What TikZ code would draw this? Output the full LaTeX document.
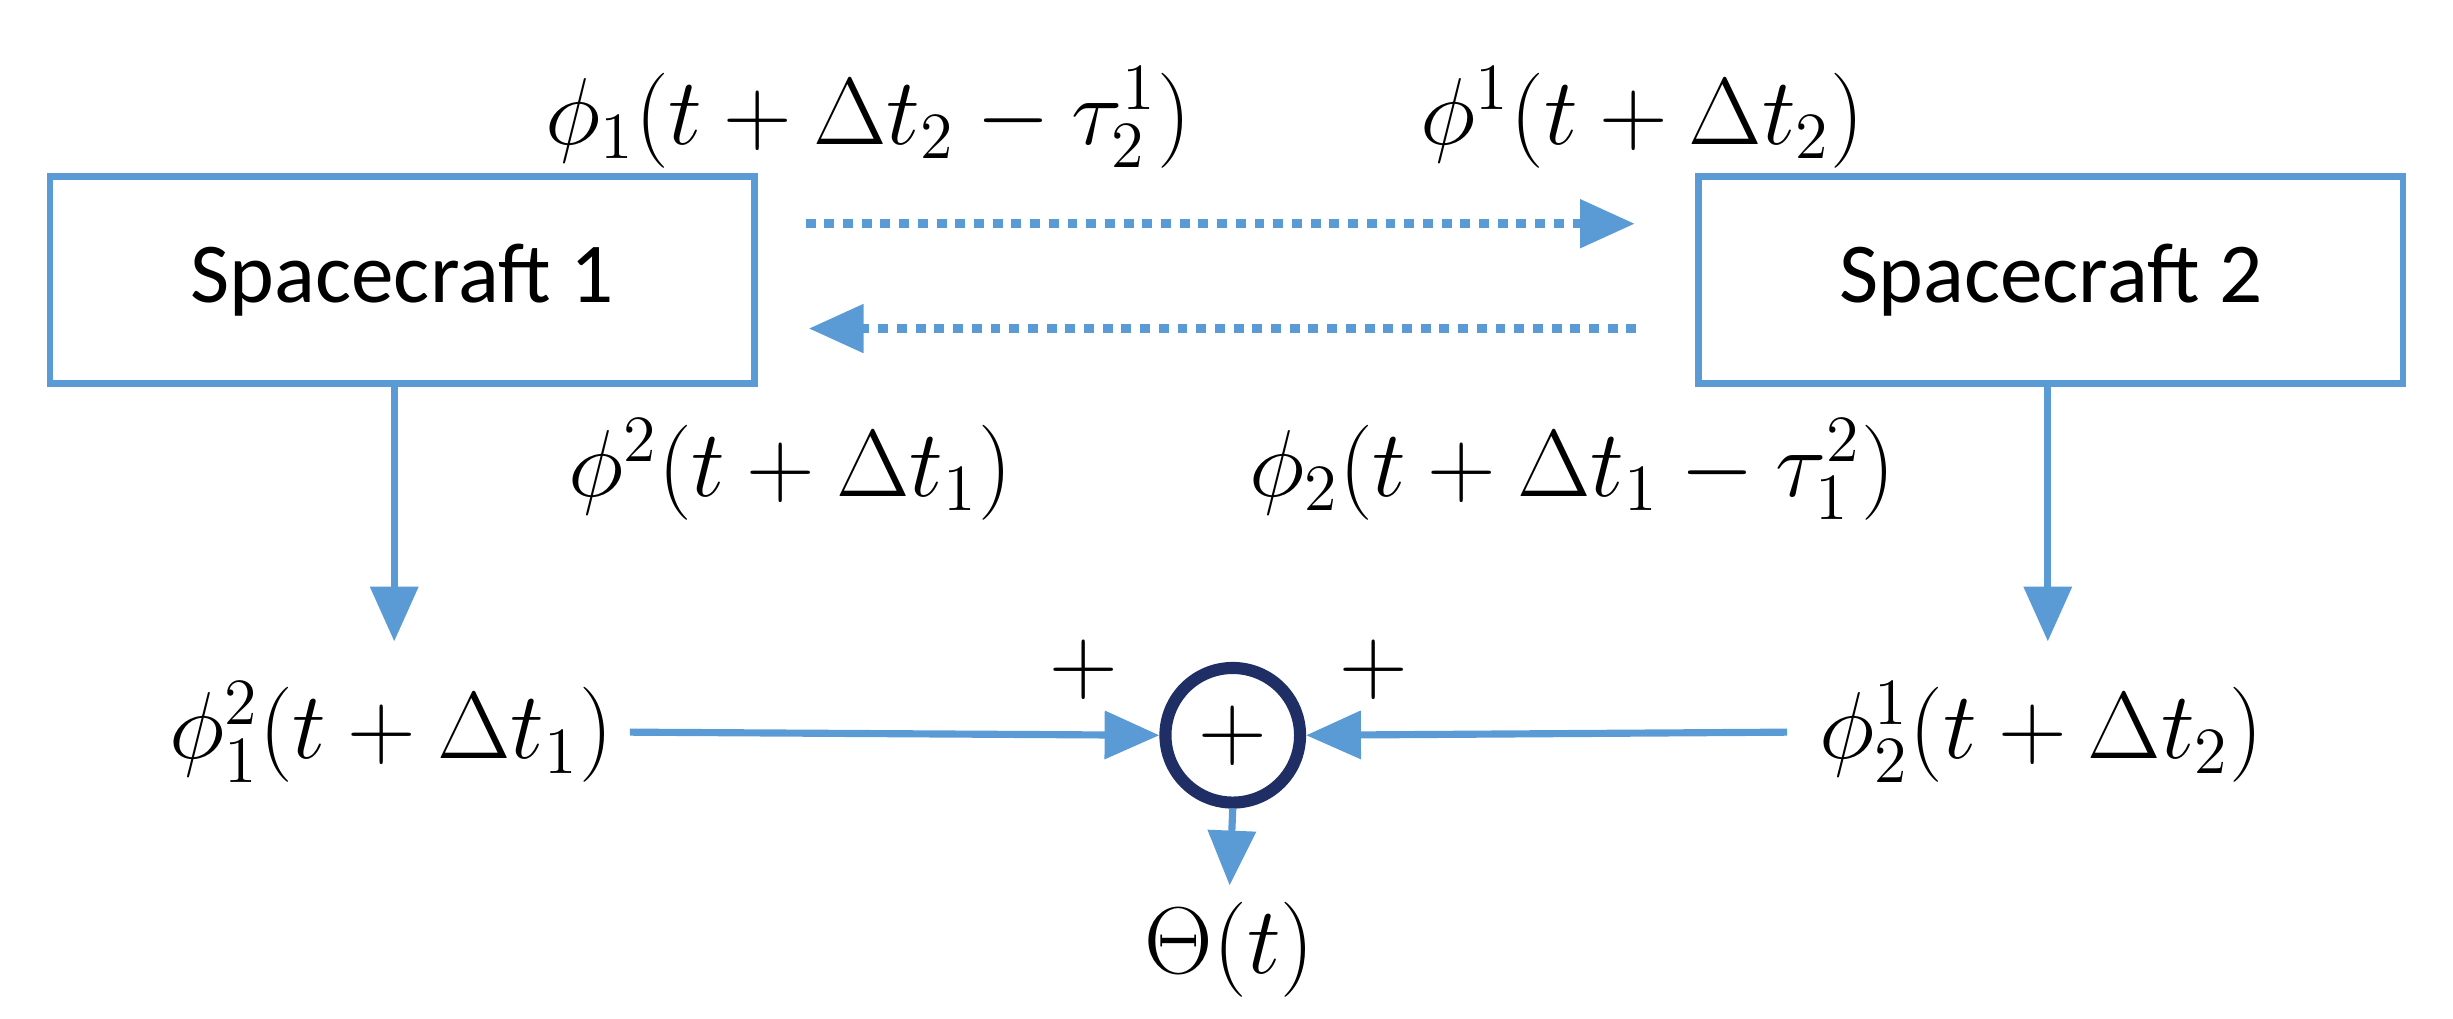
\documentclass[tikz,border=0pt]{standalone}
\usepackage{amsmath}
\usepackage{fontspec}
\newfontfamily\calibri{Carlito}
\usetikzlibrary{arrows.meta,positioning}
\definecolor{lineblue}{RGB}{91,155,213}
\definecolor{navy}{RGB}{31,46,100}
\begin{document}
\begin{tikzpicture}[x=0.01cm, y=-0.01cm]
      \tikzset{block/.style = {rectangle, draw=lineblue, line width=1.2pt,
                               minimum width=4.5cm, minimum height=1.32cm,
                               font=\calibri\fontsize{15.5}{18}\selectfont},
               arrow/.style = {draw=lineblue, line width=1.3pt,
                               -{Triangle[length=0.35cm, width=0.3cm]}},
               lbl/.style = {font=\fontsize{16.5}{20}\selectfont, inner sep=0pt}}
      \useasboundingbox (0,0) rectangle (1568,651);
      \node[block] (sc1) at (257,179) {Spacecraft 1};
      \node[block] (sc2) at (1311,179) {Spacecraft 2};
      \coordinate (t1) at (515,143);
      \coordinate (t2) at (1045,143);
      \coordinate (b1) at (1046,210);
      \coordinate (b2) at (517,210);
      \path[arrow, dash pattern=on 1.8pt off 1.6pt, line width=1.6pt] (t1) -- (t2);
      \path[arrow, dash pattern=on 1.8pt off 1.6pt, line width=1.6pt] (b1) -- (b2);
      \node[lbl] (out12) at (555,75) {$\phi_1(t+\Delta t_2-\tau_2^1)$};
      \node[lbl] (in21) at (1050,75) {$\phi^1(t+\Delta t_2)$};
      \node[lbl] (in12) at (505,300) {$\phi^2(t+\Delta t_1)$};
      \node[lbl] (out21) at (1005,300) {$\phi_2(t+\Delta t_1-\tau_1^2)$};
      \node[lbl] (m1) at (250,468) {$\phi_1^2(t+\Delta t_1)$};
      \node[lbl] (m2) at (1305,468) {$\phi_2^1(t+\Delta t_2)$};
      \node[circle, draw=navy, line width=2.2pt, minimum size=0.86cm,
            inner sep=0pt, font=\fontsize{18}{22}\selectfont] (sum) at (788,470) {$+$};
      \node[lbl] (p1) at (693,428) {$+$};
      \node[lbl] (p2) at (878,428) {$+$};
      \node[lbl] (theta) at (786,607) {$\Theta(t)$};
      \path[arrow] (sc1.south -| 252,0) -- (252,410);
      \path[arrow] (sc2.south -| 1309,0) -- (1309,410);
      \path[arrow] ([xshift=0.1cm]m1.east) -- (sum.west);
      \path[arrow] ([xshift=-0.2cm]m2.west) -- (sum.east);
      \path[arrow] (sum.south) -- ([yshift=0.1cm]theta.north);
    \end{tikzpicture}
\end{document}
